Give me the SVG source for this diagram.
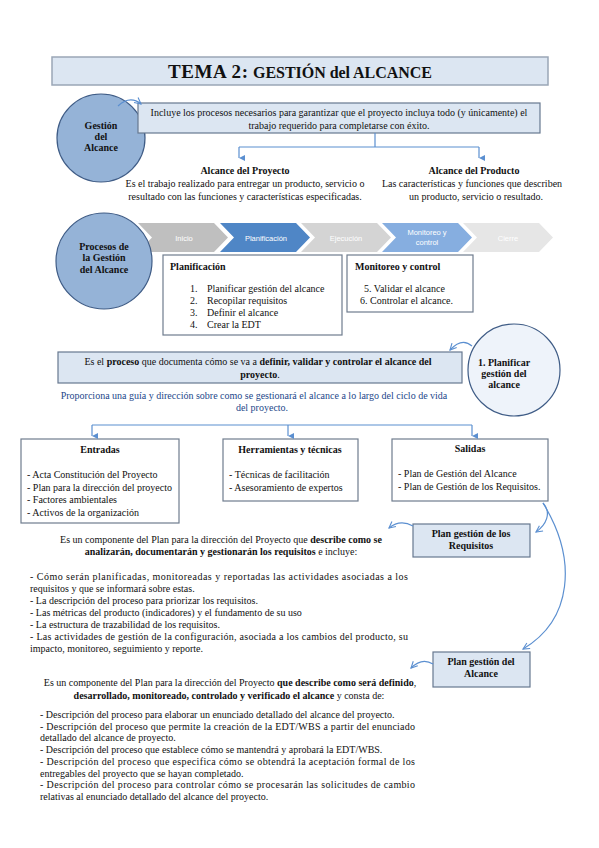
<svg xmlns="http://www.w3.org/2000/svg" width="599" height="848" viewBox="0 0 599 848">
<defs>
<style>
text{font-family:"Liberation Serif","Times New Roman",serif;font-size:10px;fill:#111;}
.b{font-weight:bold;}
.c{text-anchor:middle;}
.lb{fill:#dce6f2;stroke:#67788f;stroke-width:1.2;}
.wb{fill:#fff;stroke:#6f7c8e;stroke-width:1.2;}
.circ{fill:#95b3d7;stroke:#3f5c86;stroke-width:1.2;}
.con{fill:none;stroke:#5b8fd0;stroke-width:1.2;}
.cur{fill:none;stroke:#5b8fd0;stroke-width:1.2;marker-end:url(#v);}
.chev{font-family:"Liberation Sans",Arial,sans-serif;font-size:7.5px;fill:#fff;text-anchor:middle;}
.blue{fill:#23478a;}
</style>
<marker id="tri" viewBox="0 0 10 10" refX="5" refY="10" markerWidth="6" markerHeight="6" orient="auto-start-reverse" markerUnits="userSpaceOnUse">
<path d="M0,0 L10,0 L5,10 Z" fill="#5b8fd0"/>
</marker>
<marker id="v" viewBox="0 0 10 10" refX="9" refY="5" markerWidth="8" markerHeight="8" orient="auto" markerUnits="userSpaceOnUse">
<path d="M1,1 L9,5 L1,9" fill="none" stroke="#5b8fd0" stroke-width="1.4"/>
</marker>
</defs>
<rect width="599" height="848" fill="#fff"/>

<g id="title">
<rect x="52" y="57" width="496" height="28" fill="#dce6f2" stroke="#9aa6b6" stroke-width="1.5"/>
<text x="168" y="78" class="b" style="font-size:19px" textLength="80">TEMA 2:</text>
<text x="253" y="78" class="b" style="font-size:16px" textLength="179">GESTIÓN del ALCANCE</text>
</g>

<g id="gestion-alcance">
<circle cx="101" cy="138" r="44" class="circ"/>
<text x="101" y="129" class="b c">Gestión</text>
<text x="101" y="140" class="b c">del</text>
<text x="101" y="151" class="b c">Alcance</text>
</g>

<g id="definicion">
<rect x="138" y="103" width="402" height="30" class="lb"/>
<text x="339" y="116" class="c">Incluye los procesos necesarios para garantizar que el proyecto incluya todo (y únicamente) el</text>
<text x="339" y="129" class="c">trabajo requerido para completarse con éxito.</text>
</g>

<g id="alcance-proyecto">
<text x="245" y="174" class="b c">Alcance del Proyecto</text>
<text x="245" y="187" class="c">Es el trabajo realizado para entregar un producto, servicio o</text>
<text x="245" y="200" class="c">resultado con las funciones y características especificadas.</text>
</g>

<g id="alcance-producto">
<text x="474" y="174" class="b c">Alcance del Producto</text>
<text x="472" y="187" class="c">Las características y funciones que describen</text>
<text x="476" y="200" class="c">un producto, servicio o resultado.</text>
</g>

<g id="fases">
<polygon points="138,223 214,223 228,237.5 214,252 138,252 152,237.5" fill="#bfbfbf"/>
<polygon points="220,223 296,223 310,237.5 296,252 220,252 234,237.5" fill="#4f86c6"/>
<polygon points="301,223 377,223 391,237.5 377,252 301,252 315,237.5" fill="#d4d4d4"/>
<polygon points="382,223 458,223 472,237.5 458,252 382,252 396,237.5" fill="#86aee0"/>
<polygon points="463,223 539,223 553,237.5 539,252 463,252 477,237.5" fill="#e6e6e6"/>
<text x="184" y="240.5" class="chev">Inicio</text>
<text x="266" y="240.5" class="chev">Planificación</text>
<text x="346" y="240.5" class="chev">Ejecución</text>
<text x="427" y="235" class="chev">Monitoreo y</text>
<text x="427" y="245" class="chev">control</text>
<text x="508" y="240.5" class="chev">Cierre</text>
</g>

<g id="procesos">
<circle cx="104" cy="261" r="48" class="circ"/>
<text x="104" y="250" class="b c">Procesos de</text>
<text x="104" y="261" class="b c">la Gestión</text>
<text x="104" y="273" class="b c">del Alcance</text>
</g>

<g id="planificacion">
<rect x="163" y="255" width="179" height="80" class="wb"/>
<text x="170" y="270" class="b">Planificación</text>
<text x="190" y="292">1.</text><text x="207" y="292">Planificar gestión del alcance</text>
<text x="190" y="304">2.</text><text x="207" y="304">Recopilar requisitos</text>
<text x="190" y="316">3.</text><text x="207" y="316">Definir el alcance</text>
<text x="190" y="328">4.</text><text x="207" y="328">Crear la EDT</text>
</g>

<g id="monitoreo">
<rect x="347" y="255" width="126" height="57" class="wb"/>
<text x="355" y="270" class="b">Monitoreo y control</text>
<text x="364" y="292">5. Validar el alcance</text>
<text x="360" y="304">6. Controlar el alcance.</text>
</g>

<g id="planificar-gestion">
<circle cx="514" cy="370" r="46" fill="#eef3fa" stroke="#3f5c86" stroke-width="1.2"/>
<text x="504" y="366" class="b c">1. Planificar</text>
<text x="504" y="377" class="b c">gestión del</text>
<text x="504" y="388" class="b c">alcance</text>
</g>

<g id="proceso">
<rect x="58" y="352" width="404" height="31" class="lb"/>
<text x="258" y="365" class="c">Es el <tspan class="b">proceso</tspan> que documenta cómo se va a <tspan class="b">definir, validar y controlar el alcance del</tspan></text>
<text x="260" y="378" class="c"><tspan class="b">proyecto</tspan>.</text>
<text x="254" y="399" class="c blue">Proporciona una guía y dirección sobre como se gestionará el alcance a lo largo del ciclo de vida</text>
<text x="262" y="411" class="c blue">del proyecto.</text>
</g>

<g id="entradas">
<rect x="21" y="439" width="158" height="84" class="wb"/>
<text x="100" y="453" class="b c">Entradas</text>
<text x="27" y="478">- Acta Constitución del Proyecto</text>
<text x="27" y="491">- Plan para la dirección del proyecto</text>
<text x="27" y="503">- Factores ambientales</text>
<text x="27" y="516">- Activos de la organización</text>
</g>

<g id="herramientas">
<rect x="223" y="439" width="135" height="62" class="wb"/>
<text x="290" y="453" class="b c">Herramientas y técnicas</text>
<text x="229" y="478">- Técnicas de facilitación</text>
<text x="229" y="491">- Asesoramiento de expertos</text>
</g>

<g id="salidas">
<rect x="392" y="439" width="156" height="62" class="wb"/>
<text x="470" y="452" class="b c">Salidas</text>
<text x="398" y="477">- Plan de Gestión del Alcance</text>
<text x="398" y="490">- Plan de Gestión de los Requisitos.</text>
</g>

<g id="plan-requisitos">
<rect x="413" y="524" width="117" height="33" class="lb"/>
<text x="471" y="537" class="b c">Plan gestión de los</text>
<text x="471" y="549" class="b c">Requisitos</text>
</g>

<g id="plan-alcance">
<rect x="433" y="652" width="97" height="35" class="lb"/>
<text x="481" y="665" class="b c">Plan gestión del</text>
<text x="481" y="677" class="b c">Alcance</text>
</g>

<g id="texto-requisitos">
<text x="221" y="543" class="c">Es un componente del Plan para la dirección del Proyecto que <tspan class="b">describe como se</tspan></text>
<text x="221" y="555" class="c"><tspan class="b">analizarán, documentarán y gestionarán los requisitos</tspan> e incluye:</text>
<text x="30" y="580" textLength="378">- Cómo serán planificadas, monitoreadas y reportadas las actividades asociadas a los</text>
<text x="30" y="592">requisitos y que se informará sobre estas.</text>
<text x="30" y="604">- La descripción del proceso para priorizar los requisitos.</text>
<text x="30" y="616">- Las métricas del producto (indicadores) y el fundamento de su uso</text>
<text x="30" y="628">- La estructura de trazabilidad de los requisitos.</text>
<text x="30" y="640" textLength="378">- Las actividades de gestión de la configuración, asociada a los cambios del producto, su</text>
<text x="30" y="652">impacto, monitoreo, seguimiento y reporte.</text>
</g>

<g id="texto-alcance">
<text x="230" y="686" class="c">Es un componente del Plan para la dirección del Proyecto <tspan class="b">que describe como será definido</tspan>,</text>
<text x="229" y="699" class="c"><tspan class="b">desarrollado, monitoreado, controlado y verificado el alcance</tspan> y consta de:</text>
<text x="40" y="718">- Descripción del proceso para elaborar un enunciado detallado del alcance del proyecto.</text>
<text x="40" y="729.7" textLength="375">- Descripción del proceso que permite la creación de la EDT/WBS a partir del enunciado</text>
<text x="40" y="741.4">detallado del alcance de proyecto.</text>
<text x="40" y="753">- Descripción del proceso que establece cómo se mantendrá y aprobará la EDT/WBS.</text>
<text x="40" y="764.8" textLength="375">- Descripción del proceso que especifica cómo se obtendrá la aceptación formal de los</text>
<text x="40" y="776.5">entregables del proyecto que se hayan completado.</text>
<text x="40" y="788" textLength="375">- Descripción del proceso para controlar cómo se procesarán las solicitudes de cambio</text>
<text x="40" y="800">relativas al enunciado detallado del alcance del proyecto.</text>
</g>

<g id="connectors">
<path class="con" d="M375,133 V147 M239,147 H479"/>
<path class="con" d="M239,147 V158" marker-end="url(#tri)"/>
<path class="con" d="M479,147 V158" marker-end="url(#tri)"/>
<path class="con" d="M92,425 H472"/>
<path class="con" d="M92,425 V436" marker-end="url(#tri)"/>
<path class="con" d="M288,425 V436" marker-end="url(#tri)"/>
<path class="con" d="M472,425 V436" marker-end="url(#tri)"/>
<path class="cur" d="M118,106 Q130,95 141,104"/>
<path class="cur" d="M472,346 Q462,337 450,350"/>
<path class="cur" d="M543,503 C552,513 546,525 536,532"/>
<path class="cur" d="M543,503 C578,560 572,620 523,649"/>
<path class="cur" d="M413,526 Q400,519 389,528"/>
<path class="cur" d="M433,664 Q422,657 411,668"/>
</g>
</svg>
